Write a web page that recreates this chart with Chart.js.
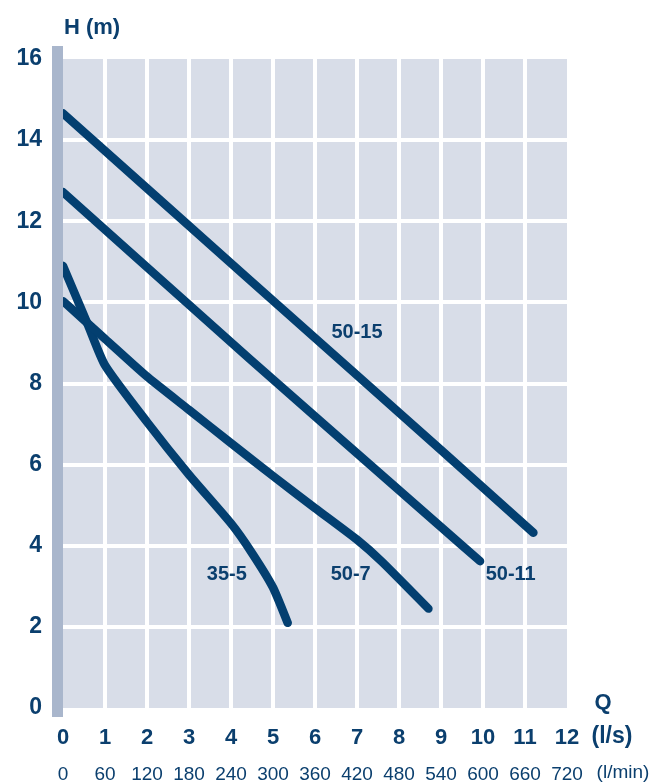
<!DOCTYPE html>
<html><head><meta charset="utf-8">
<script src="https://cdn.jsdelivr.net/npm/chart.js@4/dist/chart.umd.min.js"></script>
<style>html,body{margin:0;padding:0;background:#fff}#wrap{width:653px;height:783px;position:relative}canvas{display:block}</style>
</head><body><div id="wrap"><canvas id="c" width="653" height="783"></canvas></div>
<script>
// ---- data ----
const qTicksLs   = ['0','1','2','3','4','5','6','7','8','9','10','11','12'];
const qTicksLmin = ['0','60','120','180','240','300','360','420','480','540','600','660','720'];
const hTicks     = ['0','2','4','6','8','10','12','14','16'];

const q50_15 = [0, 4.45, 8.98, 11.2];
const h50_15 = [14.66, 10.55, 6.38, 4.32];

const q50_11 = [0, 4.45, 8.98, 9.93];
const h50_11 = [12.72, 8.6, 4.48, 3.62];

const q50_7 = [0, 1, 2, 3, 4, 5, 6, 7, 7.6, 8.7];
const h50_7 = [10.03, 9.1, 8.17, 7.35, 6.53, 5.72, 4.93, 4.15, 3.6, 2.45];

const q35_5 = [0, 0.6, 1, 2, 3, 4, 4.5, 5, 5.35];
const h35_5 = [10.9, 9.43, 8.45, 7.05, 5.75, 4.55, 3.82, 2.97, 2.1];

const curveNames  = ['50-15', '50-11', '50-7', '35-5'];
const curveLabelQ = [7.0, 10.66, 6.85, 3.9];
const curveLabelH = [9.27, 3.3, 3.29, 3.29];

// ---- styles ----
const INK = '#0b3f6e';
const LINE = '#033f70';
const BG = '#d8dde8';
const BAR = '#a9b6cc';
const FONT = '"Liberation Sans", Arial, Helvetica, sans-serif';

const pts = (q, h) => q.map((v, i) => ({x: v, y: h[i]}));
const ds = (q, h) => ({
  data: pts(q, h), borderColor: LINE, borderWidth: 8.5, pointRadius: 0,
  borderCapStyle: 'round', borderJoinStyle: 'round', tension: 0.2, fill: false
});

const deco = {
  id: 'deco',
  beforeDraw(chart) {
    const {ctx, chartArea: a} = chart;
    ctx.save();
    ctx.fillStyle = BG;
    ctx.fillRect(a.left, a.top, a.right - a.left, a.bottom - a.top);
    ctx.restore();
  },
  afterDatasetsDraw(chart) {
    const {ctx, chartArea: a, scales} = chart;
    ctx.save();
    ctx.fillStyle = BAR;
    ctx.fillRect(a.left - 11, a.top - 13, 11, a.bottom - a.top + 22);
    ctx.fillStyle = INK;
    ctx.textAlign = 'center';
    ctx.textBaseline = 'middle';
    ctx.font = 'bold 20px ' + FONT;
    curveNames.forEach((t, i) => {
      ctx.fillText(t, scales.x.getPixelForValue(curveLabelQ[i]), scales.y.getPixelForValue(curveLabelH[i]));
    });
    ctx.font = 'bold 22px ' + FONT;
    ctx.fillText('H (m)', a.left + 29, a.top - 31);
    ctx.fillText('Q', a.right + 36, a.bottom - 5);
    ctx.font = 'bold 23px ' + FONT;
    ctx.fillText('(l/s)', a.right + 45, a.bottom + 29);
    ctx.font = '19px ' + FONT;
    ctx.fillText('(l/min)', a.right + 56, a.bottom + 65);
    ctx.restore();
  }
};

new Chart(document.getElementById('c'), {
  type: 'line',
  data: { datasets: [ds(q50_15, h50_15), ds(q50_11, h50_11), ds(q50_7, h50_7), ds(q35_5, h35_5)] },
  options: {
    responsive: false, animation: false, devicePixelRatio: 1,
    layout: { padding: { top: 59, right: 86, left: 0, bottom: 0 } },
    plugins: { legend: { display: false }, tooltip: { enabled: false } },
    scales: {
      x: {
        type: 'linear', position: 'bottom', min: 0, max: 12, weight: 0,
        afterFit: s => { s.height = 46; },
        afterBuildTicks: s => { s.ticks = qTicksLs.map(v => ({value: +v})); },
        ticks: { stepSize: 1, autoSkip: false, maxRotation: 0, padding: 17, color: INK,
                 font: { family: FONT, size: 22, weight: 'bold' },
                 callback: (v, i) => qTicksLs[i] },
        grid: { drawTicks: false, lineWidth: 4,
                color: c => (c.tick && (c.tick.value === 0 || c.tick.value === 12)) ? 'rgba(0,0,0,0)' : '#ffffff' },
        border: { display: false }
      },
      x2: {
        type: 'linear', position: 'bottom', min: 0, max: 12, weight: 1,
        afterFit: s => { s.height = 29; },
        afterBuildTicks: s => { s.ticks = qTicksLs.map(v => ({value: +v})); },
        ticks: { stepSize: 1, autoSkip: false, maxRotation: 0, padding: 9, color: INK,
                 font: { family: FONT, size: 19 },
                 callback: (v, i) => qTicksLmin[i] },
        grid: { display: false, drawTicks: false },
        border: { display: false }
      },
      y: {
        type: 'linear', position: 'left', min: 0, max: 16,
        afterFit: s => { s.width = 63; },
        afterBuildTicks: s => { s.ticks = hTicks.map(v => ({value: +v})); },
        ticks: { stepSize: 2, padding: 21, color: INK,
                 font: { family: FONT, size: 23, weight: 'bold' },
                 callback: (v, i) => hTicks[i] },
        grid: { drawTicks: false, lineWidth: 4,
                color: c => (c.tick && (c.tick.value === 0 || c.tick.value === 16)) ? 'rgba(0,0,0,0)' : '#ffffff' },
        border: { display: false }
      }
    }
  },
  plugins: [deco]
});
</script></body></html>
